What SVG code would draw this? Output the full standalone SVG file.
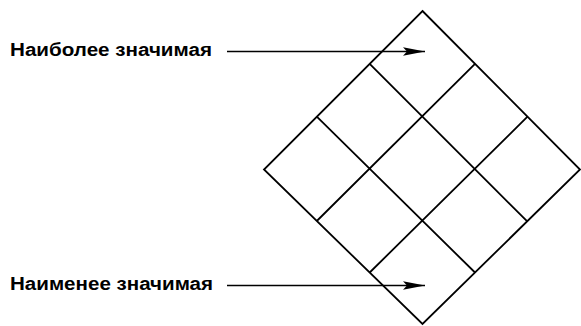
<svg xmlns="http://www.w3.org/2000/svg" width="581" height="326" viewBox="0 0 581 326">
<style>
.g{fill:none;stroke:#000;stroke-width:1.8;stroke-linejoin:miter}
.c{fill:none;stroke:#000;stroke-width:1.6}
.t{font-family:"Liberation Sans",Arial,sans-serif;font-weight:bold;font-size:18px;fill:#000}
</style>
<defs>
<marker id="ah" markerUnits="userSpaceOnUse" markerWidth="24" markerHeight="10" refX="22" refY="5" orient="auto">
<path d="M0,0.8 L22,5 L0,9.2 L4,5 Z" fill="#000"/>
</marker>
</defs>
<rect width="581" height="326" fill="#fff"/>
<g id="grid">
<path class="g" d="M422.5,11 L580,169.5 L422.5,324 L264,169.5 Z"/>
<path class="g" d="M475,63.8 L316.8,221 M527.5,116.7 L369.7,272.5 M369.7,63.8 L527.5,221.7 M316.8,116.7 L475,272.5"/>
</g>
<g id="label-top">
<text class="t" x="10" y="56" textLength="202" lengthAdjust="spacingAndGlyphs">Наиболее значимая</text>
</g>
<g id="label-bottom">
<text class="t" x="10" y="290" textLength="203" lengthAdjust="spacingAndGlyphs">Наименее значимая</text>
</g>
<g id="connectors">
<line class="c" x1="227" y1="51.5" x2="425" y2="51.5" marker-end="url(#ah)"/>
<line class="c" x1="227" y1="285.5" x2="425" y2="285.5" marker-end="url(#ah)"/>
</g>
</svg>
